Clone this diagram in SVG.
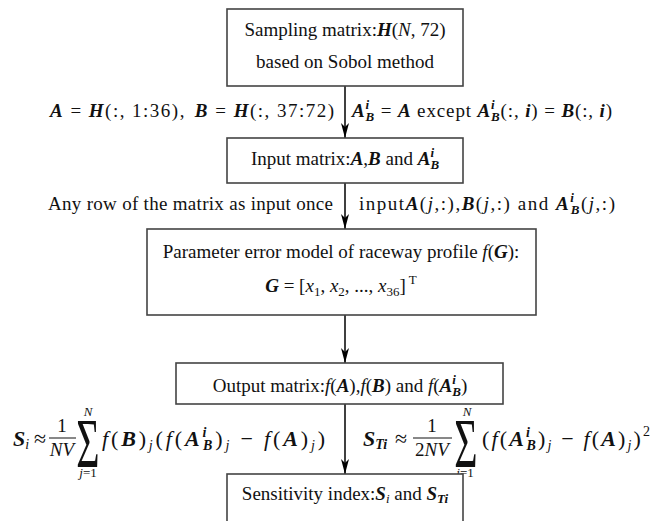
<svg xmlns="http://www.w3.org/2000/svg" width="662" height="521" viewBox="0 0 662 521">
<defs>
<marker id="ah" viewBox="0 0 15 8" refX="15" refY="4" markerWidth="15" markerHeight="8" orient="auto" markerUnits="userSpaceOnUse">
<path d="M0,0 L15,4 L0,8 L4,4 Z" fill="#000"/>
</marker>
<style>
text{font-family:"Liberation Serif","Times New Roman",serif;font-size:19px;fill:#111}
.box{fill:#fff;stroke:#444;stroke-width:1.6}
.con{stroke:#000;stroke-width:1.5;fill:none;marker-end:url(#ah)}
.bi{font-weight:bold;font-style:italic}
.it{font-style:italic}
.s{font-size:13px}
.f{font-size:22px}
.fs{font-size:14px}
.fr{font-size:19px}
.m{text-anchor:middle}
.e{text-anchor:end}
.frac{stroke:#111;stroke-width:1}
</style>
</defs>
<rect width="662" height="521" fill="#fff"/>

<g id="connectors">
<line class="con" x1="345" y1="86" x2="345" y2="138"/>
<line class="con" x1="345" y1="183" x2="345" y2="229"/>
<line class="con" x1="345" y1="315" x2="345" y2="363"/>
<line class="con" x1="345" y1="404" x2="345" y2="474"/>
</g>

<g id="n1">
<rect class="box" x="227" y="9" width="236" height="77"/>
<text class="m" x="345" y="36">Sampling matrix:<tspan class="bi">H</tspan>(<tspan class="it">N</tspan>, 72)</text>
<text class="m" x="345" y="68">based on Sobol method</text>
</g>

<g id="label1">
<text x="50" y="117" textLength="284" lengthAdjust="spacing"><tspan class="bi">A</tspan> = <tspan class="bi">H</tspan>(:, 1:36),<tspan class="bi" dx="9">B</tspan> = <tspan class="bi">H</tspan>(:, 37:72)</text>
<text x="352" y="117" textLength="260" lengthAdjust="spacing"><tspan class="bi">A</tspan><tspan class="s bi" dy="-8">i</tspan><tspan class="s bi" dx="-4.5" dy="12">B</tspan><tspan dy="-4"> = </tspan><tspan class="bi">A</tspan>  except  <tspan class="bi">A</tspan><tspan class="s bi" dy="-8">i</tspan><tspan class="s bi" dx="-4.5" dy="12">B</tspan><tspan dy="-4">(:, </tspan><tspan class="bi">i</tspan>) = <tspan class="bi">B</tspan>(:, <tspan class="bi">i</tspan>)</text>
</g>

<g id="n2">
<rect class="box" x="227" y="138" width="236" height="45"/>
<text class="m" x="345" y="165">Input matrix:<tspan class="bi">A</tspan>,<tspan class="bi">B</tspan> and <tspan class="bi">A</tspan><tspan class="s bi" dy="-8">i</tspan><tspan class="s bi" dx="-3.6" dy="12">B</tspan></text>
</g>

<g id="label2">
<text x="48" y="210" textLength="285" lengthAdjust="spacing">Any row of the matrix as input once</text>
<text x="359" y="210" textLength="256" lengthAdjust="spacing">input<tspan class="bi">A</tspan>(<tspan class="it">j</tspan>,:),<tspan class="bi">B</tspan>(<tspan class="it">j</tspan>,:) and <tspan class="bi">A</tspan><tspan class="s bi" dy="-8">i</tspan><tspan class="s bi" dx="-4.5" dy="12">B</tspan><tspan dy="-4">(</tspan><tspan class="it">j</tspan>,:)</text>
</g>

<g id="n3">
<rect class="box" x="147" y="229" width="389" height="86"/>
<text class="m" x="341" y="258">Parameter error model of raceway profile <tspan class="it">f</tspan>(<tspan class="bi">G</tspan>):</text>
<text class="m" x="341" y="292"><tspan class="bi">G</tspan> = [<tspan class="it">x</tspan><tspan class="s" dy="4">1</tspan><tspan dy="-4">, </tspan><tspan class="it">x</tspan><tspan class="s" dy="4">2</tspan><tspan dy="-4">, ..., </tspan><tspan class="it">x</tspan><tspan class="s" dy="4">36</tspan><tspan dy="-4">]</tspan><tspan class="s" dy="-8"> T</tspan></text>
</g>

<g id="n4">
<rect class="box" x="176" y="363" width="327" height="41"/>
<text class="m" x="340" y="392">Output matrix:<tspan class="it">f</tspan>(<tspan class="bi">A</tspan>),<tspan class="it">f</tspan>(<tspan class="bi">B</tspan>) and <tspan class="it">f</tspan>(<tspan class="bi">A</tspan><tspan class="s bi" dy="-8">i</tspan><tspan class="s bi" dx="-3.6" dy="12">B</tspan><tspan dy="-4">)</tspan></text>
</g>

<g id="formula-si">
<text class="f" x="13" y="446"><tspan class="bi">S</tspan><tspan class="fs it" dy="3">i</tspan></text>
<text class="f" x="34" y="446">≈</text>
<text class="m fr" x="62" y="432">1</text>
<line class="frac" x1="49" y1="438" x2="76" y2="438"/>
<text class="m it fr" x="62" y="456">NV</text>
<text class="m" transform="translate(88,467) scale(1,1.75)" style="font-size:40px">Σ</text>
<text class="m it s" x="88" y="416">N</text>
<text class="m s" x="88" y="477"><tspan class="it">j</tspan>=1</text>
<text class="f" x="102" y="446" textLength="223" lengthAdjust="spacing"><tspan class="it">f</tspan>(<tspan class="bi">B</tspan>)<tspan class="fs it" dy="4">j</tspan><tspan dy="-4">(</tspan><tspan class="it">f</tspan>(<tspan class="bi">A</tspan><tspan class="fs bi" dy="-9">i</tspan><tspan class="fs bi" dx="-6.1" dy="13">B</tspan><tspan dy="-4">)</tspan><tspan class="fs it" dy="4">j</tspan><tspan dy="-4"> − </tspan><tspan class="it">f</tspan>(<tspan class="bi">A</tspan>)<tspan class="fs it" dy="4">j</tspan><tspan dy="-4">)</tspan></text>
</g>

<g id="formula-sti">
<text class="f" x="363" y="446"><tspan class="bi">S</tspan><tspan class="fs bi" dy="3">Ti</tspan></text>
<text class="f" x="395" y="446">≈</text>
<text class="m fr" x="432" y="432">1</text>
<line class="frac" x1="413" y1="438" x2="452" y2="438"/>
<text class="m fr" x="432" y="456">2<tspan class="it">NV</tspan></text>
<text class="m" transform="translate(466,467) scale(1,1.75)" style="font-size:40px">Σ</text>
<text class="m it s" x="467" y="416">N</text>
<text class="m s" x="465" y="477"><tspan class="it">j</tspan>=1</text>
<text class="f" x="482" y="446" textLength="168" lengthAdjust="spacing">(<tspan class="it">f</tspan>(<tspan class="bi">A</tspan><tspan class="fs bi" dy="-9">i</tspan><tspan class="fs bi" dx="-5.6" dy="13">B</tspan><tspan dy="-4">)</tspan><tspan class="fs it" dy="4">j</tspan><tspan dy="-4"> − </tspan><tspan class="it">f</tspan>(<tspan class="bi">A</tspan>)<tspan class="fs it" dy="4">j</tspan><tspan dy="-4">)</tspan><tspan class="fs" dy="-10">2</tspan></text>
</g>

<g id="n5">
<rect class="box" x="227" y="474" width="236" height="60"/>
<text class="m" x="345" y="500">Sensitivity index:<tspan class="bi">S</tspan><tspan class="s it" dy="3">i</tspan><tspan dy="-3"> and </tspan><tspan class="bi">S</tspan><tspan class="s bi" dy="3">Ti</tspan></text>
</g>
</svg>
